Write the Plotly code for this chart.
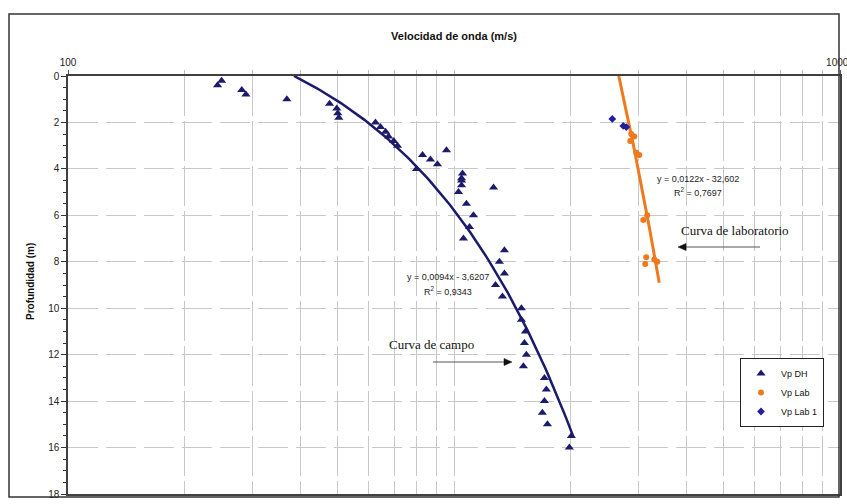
import numpy as np
import plotly.graph_objects as go

# Downhole (DH) P-wave velocities (m/s) and their depths (m)
vp_dh = [250, 244, 282, 289, 369, 476, 497, 500, 503, 626, 645, 665, 677, 698, 714,
         956, 829, 869, 906, 800, 1052, 1046, 1046, 1046, 1266, 1027, 1077, 1123, 1097,
         1058, 1351, 1311, 1351, 1281, 1335, 1495, 1495, 1531, 1522, 1540, 1513, 1715,
         1735, 1715, 1694, 1746, 2014, 1990]
depth_dh = [0.2, 0.4, 0.6, 0.8, 1.0, 1.2, 1.4, 1.6, 1.8, 2.0, 2.2, 2.4, 2.6, 2.8, 3.0,
            3.2, 3.4, 3.6, 3.8, 4.0, 4.2, 4.4, 4.5, 4.7, 4.8, 5.0, 5.5, 6.0, 6.5,
            7.0, 7.5, 8.0, 8.5, 9.0, 9.5, 10.0, 10.5, 11.0, 11.5, 12.0, 12.5, 13.0,
            13.5, 14.0, 14.5, 15.0, 15.5, 16.0]

# Laboratory velocities
vp_lab = [2879, 2931, 2862, 2967, 3020, 3167, 3093, 3148, 3129, 3362, 3303]
depth_lab = [2.5, 2.6, 2.8, 3.3, 3.4, 6.0, 6.2, 7.8, 8.1, 8.0, 7.9]

vp_lab1 = [2571, 2745, 2795]
depth_lab1 = [1.85, 2.15, 2.2]

# Linear fits: depth = slope * Vp + intercept
fit_campo = (0.0094, -3.6207)
fit_lab = (0.0122, -32.602)
fit_campo_vp = (385, 2040)
fit_lab_vp = (2672, 3402)

x_ticks = [100, 10000]
x_ticklabels = ["100", "10000"]
x_grid = [m * d for d in (100, 1000) for m in range(2, 10)] + [1000]
y_ticks = list(range(0, 19, 2))
y_minor = [i * 0.5 for i in range(37)]

NAVY = "#1c1a6b"
ORANGE = "#ef7a1e"
GRID = "#c8c8c8"
FONT = "Liberation Sans, Arial, sans-serif"
SERIF = "Liberation Serif, Times New Roman, serif"


def fit_line(fit, vp_range, n=120):
    vp = np.geomspace(vp_range[0], vp_range[1], n)
    return vp, fit[0] * vp + fit[1]


fig = go.Figure()

xc, yc = fit_line(fit_campo, fit_campo_vp)
fig.add_trace(go.Scatter(x=xc, y=yc, mode="lines", line=dict(color=NAVY, width=2.5),
                         showlegend=False, hoverinfo="skip"))
xl, yl = fit_line(fit_lab, fit_lab_vp)
fig.add_trace(go.Scatter(x=xl, y=yl, mode="lines", line=dict(color=ORANGE, width=3),
                         showlegend=False, hoverinfo="skip"))

fig.add_trace(go.Scatter(x=vp_dh, y=depth_dh, mode="markers", name="Vp DH",
                         marker=dict(symbol="triangle-up", size=8, color=NAVY)))
fig.add_trace(go.Scatter(x=vp_lab, y=depth_lab, mode="markers", name="Vp Lab",
                         marker=dict(symbol="circle", size=6, color=ORANGE)))
fig.add_trace(go.Scatter(x=vp_lab1, y=depth_lab1, mode="markers", name="Vp Lab 1",
                         marker=dict(symbol="diamond", size=6, color="#1f1fa0")))

L, R, T, B = 68, 7, 76, 10
W, H = 847, 504
pw, ph = W - L - R, H - T - B


def px(x):
    return (x - L) / pw


def py(y):
    return 1 - (y - T) / ph


annotations = [
    dict(text="<b>Profundidad (m)</b>", x=px(30), y=py(282), textangle=-90,
         font=dict(family=FONT, size=10, color="#111")),
    dict(text="y = 0,0094x - 3,6207", x=px(448), y=py(277),
         font=dict(family=FONT, size=9, color="#222")),
    dict(text="R<sup>2</sup> = 0,9343", x=px(448), y=py(291),
         font=dict(family=FONT, size=9, color="#222")),
    dict(text="y = 0,0122x - 32,602", x=px(698), y=py(179),
         font=dict(family=FONT, size=9, color="#222")),
    dict(text="R<sup>2</sup> = 0,7697", x=px(698), y=py(192),
         font=dict(family=FONT, size=9, color="#222")),
    dict(text="Curva de laboratorio", x=px(735), y=py(230),
         font=dict(family=SERIF, size=13, color="#111")),
    dict(text="Curva de campo", x=px(431), y=py(344),
         font=dict(family=SERIF, size=13, color="#111")),
]
for a in annotations:
    a.update(xref="paper", yref="paper", xanchor="center", yanchor="middle",
             showarrow=False)


def arrow(x_tail, x_tip, y):
    """Horizontal pointer line with a filled head, in pixel positions."""
    d = 1 if x_tip > x_tail else -1
    base = x_tip - d * 8
    line = dict(type="line", xref="paper", yref="paper",
                x0=px(x_tail), x1=px(base), y0=py(y), y1=py(y),
                line=dict(color="#555", width=1))
    head = dict(type="path", xref="paper", yref="paper",
                path=f"M {px(x_tip)} {py(y)} L {px(base)} {py(y - 3.5)} "
                     f"L {px(base)} {py(y + 3.5)} Z",
                fillcolor="#111", line=dict(color="#111", width=0.5))
    return [line, head]


shapes = [dict(type="rect", xref="paper", yref="paper",
               x0=px(9), x1=px(839), y0=py(497), y1=py(14),
               line=dict(color="#333", width=1.5))]
shapes += arrow(760, 678, 247)
shapes += arrow(433, 512, 362)

fig.update_layout(
    width=W, height=H,
    margin=dict(l=L, r=R, t=T, b=B, autoexpand=False),
    paper_bgcolor="white", plot_bgcolor="white",
    font=dict(family=FONT, size=10, color="#222"),
    title=dict(text="<b>Velocidad de onda (m/s)</b>", x=454 / W,
               xanchor="center", y=1 - 36 / H, yanchor="middle",
               font=dict(family=FONT, size=11, color="#111")),
    showlegend=True,
    legend=dict(x=px(740), y=py(358), xanchor="left", yanchor="top",
                bgcolor="white", bordercolor="#222", borderwidth=1,
                font=dict(family=FONT, size=9, color="#111"),
                tracegroupgap=0, itemwidth=30),
    annotations=annotations,
    shapes=shapes,
)

fig.update_xaxes(
    type="log", range=[2, 4], side="top", automargin=False,
    tickmode="array", tickvals=x_ticks, ticktext=x_ticklabels,
    ticklabeloverflow="allow",
    ticks="outside", ticklen=4, tickcolor="#555",
    tickfont=dict(family=FONT, size=10, color="#222"),
    showline=True, linecolor="#404040", linewidth=1.5, mirror=True,
    showgrid=False, zeroline=False,
    minor=dict(tickvals=x_grid, ticks="outside", ticklen=4, tickcolor="#bbb",
               showgrid=True, gridcolor=GRID, gridwidth=1, griddash="40px,5px"),
)
fig.update_yaxes(
    range=[18, 0], tickmode="array", tickvals=y_ticks, automargin=False,
    ticks="outside", ticklen=5, tickcolor="#333",
    tickfont=dict(family=FONT, size=10, color="#222"),
    showline=True, linecolor="#404040", linewidth=1.5, mirror=True,
    showgrid=True, gridcolor=GRID, gridwidth=1, griddash="30px,8px",
    zeroline=False,
    minor=dict(tickvals=y_minor, ticks="outside", ticklen=3, tickcolor="#333",
               showgrid=False),
)

fig.write_html("out.html")
